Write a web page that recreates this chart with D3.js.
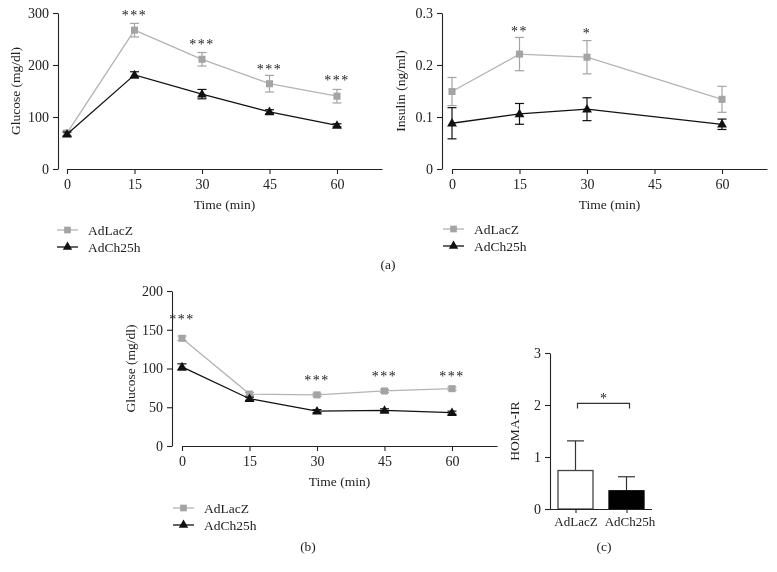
<!DOCTYPE html>
<html>
<head>
<meta charset="utf-8">
<script src="https://cdn.jsdelivr.net/npm/d3@7"></script>
<style>
  html, body { margin: 0; padding: 0; background: #fff; }
  svg { display: block; }
  text { font-family: "Liberation Serif", "Times New Roman", serif; fill: #222; }
</style>
</head>
<body>
<svg id="chart" width="777" height="572"></svg>
<script>
// ---------- DATA ----------
const seriesNames = ["AdLacZ", "AdCh25h"];

// (a) left: glucose tolerance
const gttTimes = [0, 15, 30, 45, 60];
const gttLacZ = [69, 267, 211, 164, 140];
const gttLacZErr = [5, 13, 13, 16, 13];
const gttCh25h = [67, 181, 144, 110, 84];
const gttCh25hErr = [4, 6, 9, 4, 3];
const gttStars = ["", "***", "***", "***", "***"];
const gttStarY = [null, 300, 244, 196, 175];
const gttTicksY = [0, 100, 200, 300];

// (a) right: insulin
const insTimes = [0, 15, 30, 60];
const insLacZ = [0.149, 0.221, 0.215, 0.134];
const insLacZErr = [0.027, 0.032, 0.032, 0.025];
const insCh25h = [0.088, 0.106, 0.115, 0.086];
const insCh25hErr = [0.030, 0.020, 0.022, 0.010];
const insStars = ["", "**", "*", ""];
const insStarY = [null, 0.269, 0.264, null];
const insTicksY = [0, 0.1, 0.2, 0.3];

// (b): insulin tolerance
const ittTimes = [0, 15, 30, 45, 60];
const ittLacZ = [139, 67, 66, 71, 74];
const ittLacZErr = [3, 2, 2, 2, 2];
const ittCh25h = [102, 61, 45, 46, 43];
const ittCh25hErr = [4, 2, 2, 2, 2];
const ittStars = ["***", "", "***", "***", "***"];
const ittStarY = [166, null, 87, 92, 92];
const ittTicksY = [0, 50, 100, 150, 200];

const timeTicks = [0, 15, 30, 45, 60];

// (c): HOMA-IR
const homaGroups = ["AdLacZ", "AdCh25h"];
const homaValues = [0.74, 0.35];
const homaErr = [0.57, 0.27];
const homaTicks = [0, 1, 2, 3];
const homaBracketY = 2.03;
const homaStar = "*";

// ---------- STYLE ----------
const grayLine = "#b4b4b4";
const grayMark = "#a4a4a4";
const black = "#111";
const FS = 13.5;   // titles, legend
const TFS = 14;    // tick labels

const svg = d3.select("#chart");
const root = svg.append("g").style("opacity", 0.999);

function styleAxis(g, fs) {
  g.attr("font-family", null).attr("font-size", null);
  g.selectAll("path.domain").attr("stroke", "#222").attr("stroke-width", 1.1);
  g.selectAll(".tick line").attr("stroke", "#222").attr("stroke-width", 1.1);
  g.selectAll(".tick text").style("font-size", (fs || TFS) + "px").attr("fill", "#222")
    .style("font-family", '"Liberation Serif", serif');
}

function linePanel(cfg) {
  const x = d3.scaleLinear().domain([0, 70]).range([cfg.x0, cfg.x1]);
  const y = d3.scaleLinear().domain(cfg.yDomain).range([cfg.yB, cfg.yT]);
  const g = root.append("g");

  const ay = g.append("g").attr("transform", `translate(${cfg.yAxisX},0)`)
    .call(d3.axisLeft(y).tickValues(cfg.yTicks).tickSize(5).tickSizeOuter(0).tickPadding(4)
      .tickFormat(cfg.fmt));
  styleAxis(ay);
  const ax = g.append("g").attr("transform", `translate(0,${cfg.yB})`)
    .call(d3.axisBottom(x).tickValues(timeTicks).tickSize(5).tickSizeOuter(0).tickPadding(5)
      .tickFormat(d3.format("d")));
  styleAxis(ax);

  g.append("text").attr("x", (cfg.x0 + cfg.x1) / 2).attr("y", cfg.yB + 40)
    .attr("text-anchor", "middle").style("font-size", FS + "px").text("Time (min)");
  g.append("text").attr("transform", `translate(${cfg.yLabelX},${(cfg.yT + cfg.yB) / 2}) rotate(-90)`)
    .attr("text-anchor", "middle").style("font-size", FS + "px").text(cfg.yLabel);

  const series = [
    { t: cfg.times, v: cfg.lacz, e: cfg.laczErr, line: grayLine, mark: grayMark, shape: d3.symbolSquare, size: 50 },
    { t: cfg.times, v: cfg.ch, e: cfg.chErr, line: black, mark: black, shape: d3.symbolTriangle, size: 42 }
  ];
  series.forEach(s => {
    const pts = s.t.map((t, i) => ({ t, v: s.v[i], e: s.e[i] }));
    const lg = g.append("g");
    lg.append("path").datum(pts)
      .attr("d", d3.line().x(d => x(d.t)).y(d => y(d.v)))
      .attr("fill", "none").attr("stroke", s.line).attr("stroke-width", 1.3);
    const eb = lg.selectAll(".eb").data(pts).enter().append("g");
    eb.append("line").attr("x1", d => x(d.t)).attr("x2", d => x(d.t))
      .attr("y1", d => y(d.v - d.e)).attr("y2", d => y(d.v + d.e))
      .attr("stroke", s.mark).attr("stroke-width", 1.2);
    [1, -1].forEach(sg => {
      eb.append("line").attr("x1", d => x(d.t) - 4.5).attr("x2", d => x(d.t) + 4.5)
        .attr("y1", d => y(d.v + sg * d.e)).attr("y2", d => y(d.v + sg * d.e))
        .attr("stroke", s.mark).attr("stroke-width", 1.2);
    });
    lg.selectAll(".mk").data(pts).enter().append("path")
      .attr("d", d3.symbol().type(s.shape).size(s.size))
      .attr("transform", d => `translate(${x(d.t)},${y(d.v) + (s.shape === d3.symbolTriangle ? 0.5 : 0)})`)
      .attr("fill", s.mark);
  });

  g.selectAll(".star").data(cfg.times.map((t, i) => ({ t, s: cfg.stars[i], sy: cfg.starY[i] })).filter(d => d.s))
    .enter().append("text")
    .attr("x", d => x(d.t)).attr("y", d => y(d.sy) + 6.5)
    .attr("text-anchor", "middle").style("font-size", "14px").style("letter-spacing", "1.5px")
    .attr("fill", "#444").text(d => d.s);

  const lgx = cfg.legX, lgy = cfg.legY;
  [[grayLine, grayMark, d3.symbolSquare, 45], [black, black, d3.symbolTriangle, 38]].forEach((m, i) => {
    const yy = lgy + i * 17;
    g.append("line").attr("x1", lgx).attr("x2", lgx + 21).attr("y1", yy).attr("y2", yy)
      .attr("stroke", m[0]).attr("stroke-width", 1.3);
    g.append("path").attr("d", d3.symbol().type(m[2]).size(m[3]))
      .attr("transform", `translate(${lgx + 10.5},${yy})`).attr("fill", m[1]);
    g.append("text").attr("x", lgx + 31).attr("y", yy + 5).style("font-size", FS + "px").text(seriesNames[i]);
  });
}

linePanel({
  x0: 67, x1: 382, yT: 13, yB: 169, yAxisX: 58, yDomain: [0, 300], yTicks: gttTicksY,
  fmt: d3.format("d"), yLabel: "Glucose (mg/dl)", yLabelX: 20,
  times: gttTimes, lacz: gttLacZ, laczErr: gttLacZErr, ch: gttCh25h, chErr: gttCh25hErr,
  stars: gttStars, starY: gttStarY, legX: 57, legY: 230
});

linePanel({
  x0: 452, x1: 767, yT: 13, yB: 169, yAxisX: 442, yDomain: [0, 0.3], yTicks: insTicksY,
  fmt: d => d === 0 ? "0" : d3.format(".1f")(d), yLabel: "Insulin (ng/ml)", yLabelX: 405,
  times: insTimes, lacz: insLacZ, laczErr: insLacZErr, ch: insCh25h, chErr: insCh25hErr,
  stars: insStars, starY: insStarY, legX: 443, legY: 229
});

linePanel({
  x0: 182, x1: 497, yT: 291, yB: 446, yAxisX: 172, yDomain: [0, 200], yTicks: ittTicksY,
  fmt: d3.format("d"), yLabel: "Glucose (mg/dl)", yLabelX: 135,
  times: ittTimes, lacz: ittLacZ, laczErr: ittLacZErr, ch: ittCh25h, chErr: ittCh25hErr,
  stars: ittStars, starY: ittStarY, legX: 173, legY: 508
});

// ---------- (c) bar chart ----------
(function () {
  const x = d3.scalePoint().domain(homaGroups).range([550, 652]).padding(0.5);
  const y = d3.scaleLinear().domain([0, 3]).range([509, 353]);
  const g = root.append("g");
  const bw = 35;
  const ay = g.append("g").attr("transform", "translate(550,0)")
    .call(d3.axisLeft(y).tickValues(homaTicks).tickSize(5).tickSizeOuter(0).tickPadding(4).tickFormat(d3.format("d")));
  styleAxis(ay);

  homaGroups.forEach((grp, i) => {
    const cx = x(grp);
    g.append("line").attr("x1", cx).attr("x2", cx).attr("y1", y(homaValues[i])).attr("y2", y(homaValues[i] + homaErr[i]))
      .attr("stroke", "#333").attr("stroke-width", 1.2);
    g.append("line").attr("x1", cx - 8.5).attr("x2", cx + 8.5)
      .attr("y1", y(homaValues[i] + homaErr[i])).attr("y2", y(homaValues[i] + homaErr[i]))
      .attr("stroke", "#333").attr("stroke-width", 1.2);
  });
  g.selectAll(".bar").data(homaGroups).enter().append("rect")
    .attr("x", d => x(d) - bw / 2).attr("width", bw)
    .attr("y", (d, i) => y(homaValues[i])).attr("height", (d, i) => y(0) - y(homaValues[i]))
    .attr("fill", (d, i) => i === 0 ? "#fff" : "#000")
    .attr("stroke", (d, i) => i === 0 ? "#444" : "#000").attr("stroke-width", 1.3);

  const ax = g.append("g").attr("transform", `translate(0,${y(0)})`)
    .call(d3.axisBottom(x).tickSize(4).tickSizeOuter(0).tickPadding(4));
  ax.select("path.domain").attr("d", `M550,0.5H652`);
  styleAxis(ax, 13);
  ax.selectAll(".tick text").attr("dx", (d, i) => i === 1 ? 3 : 0);

  const bx1 = x(homaGroups[0]) + 2, bx2 = x(homaGroups[1]) + 3, by = y(homaBracketY);
  g.append("path").attr("d", `M${bx1},${by + 5}V${by}H${bx2}V${by + 5}`)
    .attr("fill", "none").attr("stroke", "#333").attr("stroke-width", 1.2);
  g.append("text").attr("x", (bx1 + bx2) / 2).attr("y", by - 0.5).attr("text-anchor", "middle")
    .style("font-size", "14px").attr("fill", "#444").text(homaStar);

  g.append("text").attr("transform", `translate(519,${(353 + 509) / 2}) rotate(-90)`)
    .attr("text-anchor", "middle").style("font-size", FS + "px").text("HOMA-IR");
})();

root.append("text").attr("x", 388).attr("y", 269).attr("text-anchor", "middle").style("font-size", FS + "px").text("(a)");
root.append("text").attr("x", 308).attr("y", 551).attr("text-anchor", "middle").style("font-size", FS + "px").text("(b)");
root.append("text").attr("x", 604).attr("y", 551).attr("text-anchor", "middle").style("font-size", FS + "px").text("(c)");
</script>
</body>
</html>
